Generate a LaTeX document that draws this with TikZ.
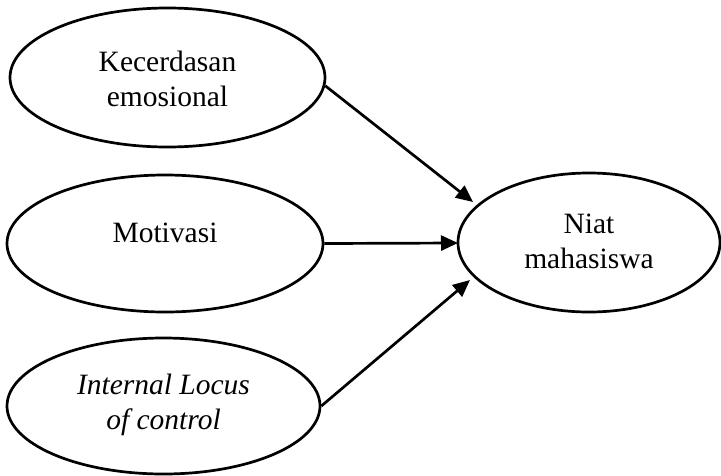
\documentclass[tikz,border=0pt]{standalone}
\usepackage{fontspec}
\setmainfont{Liberation Serif}
\usetikzlibrary{shapes.geometric,arrows.meta}
\begin{document}
\begin{tikzpicture}[x=1pt,y=-1pt,
  ell/.style={ellipse,draw,line width=2.7pt,inner sep=0pt},
  lbl/.style={align=center,font=\fontsize{29.5}{35}\selectfont,inner sep=0pt},
  arr/.style={line width=2.7pt,-{Triangle[length=17pt,width=15pt]}}]
\useasboundingbox (0,0) rectangle (721,475);
\node[ell,minimum width=315,minimum height=139] (kec) at (167.5,77.5) {};
\node[lbl] (kecT) at (167.5,79) {Kecerdasan\\emosional};
\node[ell,minimum width=316,minimum height=137] (mot) at (165,243.5) {};
\node[lbl] (motT) at (165,233) {Motivasi};
\node[ell,minimum width=313,minimum height=136] (loc) at (163.5,406) {};
\node[lbl] (locT) at (163.5,405) {\itshape Internal Locus\\\itshape of control};
\node[ell,minimum width=262,minimum height=139] (niat) at (589,242.5) {};
\node[lbl] (niatT) at (589,241) {Niat\\mahasiswa};
\coordinate (t1) at (473,202);
\coordinate (t2) at (458,243);
\coordinate (t3) at (470,280);
\draw[arr] (kec.-3) -- (t1);
\draw[arr] (mot.east) -- (t2);
\draw[arr] (loc.east) -- (t3);
\end{tikzpicture}
\end{document}
